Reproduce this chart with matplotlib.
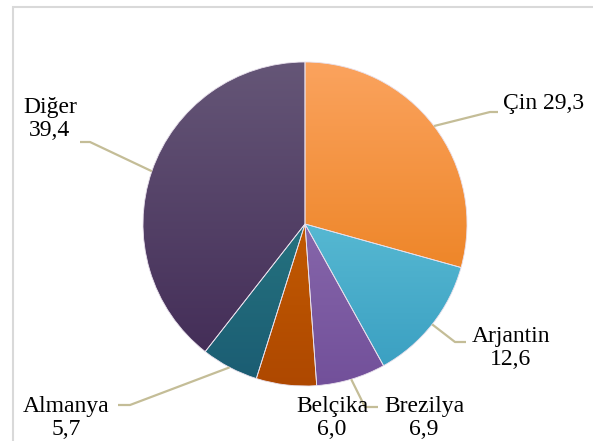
import numpy as np
import matplotlib.pyplot as plt
from matplotlib.colors import LinearSegmentedColormap
from matplotlib.patches import Rectangle

plt.rcParams['font.family'] = 'serif'
plt.rcParams['font.serif'] = ['Liberation Serif', 'Times New Roman', 'DejaVu Serif']

# Data
countries = ['Çin', 'Arjantin', 'Brezilya', 'Belçika', 'Almanya', 'Diğer']
shares = [29.3, 12.6, 6.9, 6.0, 5.7, 39.4]
top_colors = ['#FBA35E', '#56B8D2', '#8666AA', '#C25A02', '#25727F', '#655677']
bottom_colors = ['#EE8629', '#3BA0C2', '#72509A', '#AE4800', '#1B5D73', '#442E58']

# label layout (pixel coords, y from top): text pos, alignment, elbow x, line end x
label_pos = [(503, 104, 'left'), (511, 348, 'center'), (424, 418, 'center'),
             (332, 418, 'center'), (66, 418, 'center'), (50, 119, 'center')]
elbows = [(490, 112, 498), (455, 342, 466), (365, 407, 378),
          None, (130, 405, 118), (90, 142, 80)]

W, H = 593, 441
fig = plt.figure(figsize=(W / 100, H / 100), dpi=100)
ax = fig.add_axes([0, 0, 1, 1])

cx, cy, r = 305, H - 224, 162
wedges, _ = ax.pie(shares, startangle=90, counterclock=False, center=(cx, cy),
                   radius=r, frame=True,
                   wedgeprops=dict(edgecolor='#E8E0EC', linewidth=0.6))
ax.set_xlim(0, W)
ax.set_ylim(0, H)
ax.axis('off')

# outer frame
ax.add_patch(Rectangle((13, -20), W, H - 7 + 20, fill=False, ec='#D9D9D9', lw=1.5))

# vertical gradient fill per wedge
grad = np.linspace(1, 0, 256).reshape(-1, 1)
for w, ct, cb in zip(wedges, top_colors, bottom_colors):
    bb = w.get_path().get_extents()
    cmap = LinearSegmentedColormap.from_list('g', [cb, ct])
    w.set_facecolor('none')
    im = ax.imshow(grad, cmap=cmap, aspect='auto',
                   extent=(bb.x0, bb.x1, bb.y0, bb.y1), origin='upper', zorder=1)
    im.set_clip_path(w)
    w.set_zorder(2)

# labels with leader lines
total = sum(shares)
ang = 90
for name, val, (tx, ty, ha), el in zip(countries, shares, label_pos, elbows):
    span = 360 * val / total
    mid = np.deg2rad(ang - span / 2)
    ang -= span
    vstr = f'{val:.1f}'.replace('.', ',')
    if name == 'Çin':
        txt = f'{name} {vstr}'
    else:
        txt = f'{name}\n{vstr}'
    ax.text(tx, H - ty, txt, ha=ha, va='center', fontsize=17,
            linespacing=1.12, color='black', zorder=5)
    if el is not None:
        ex, ey = cx + r * np.cos(mid), cy + r * np.sin(mid)
        bx, by, lx = el
        ax.plot([ex, bx, lx], [ey, H - by, H - by], color='#C4BD97', lw=1.6,
                zorder=4, solid_capstyle='butt')

fig.savefig('out.png', dpi=100)
